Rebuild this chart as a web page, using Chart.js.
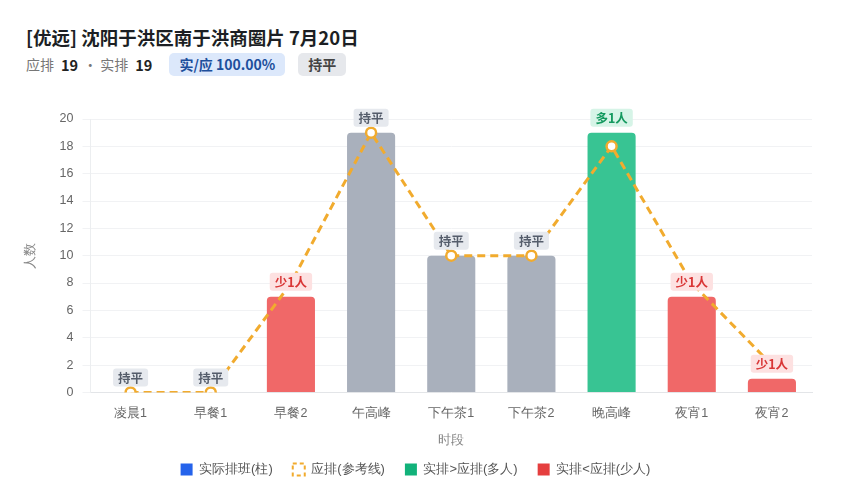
<!DOCTYPE html>
<html>
<head>
<meta charset="utf-8">
<script src="https://cdn.jsdelivr.net/npm/chart.js@4"></script>
<style>
    body { margin: 0; background: #fff; font-family: "Noto Sans CJK SC", "Noto Sans", sans-serif; }
    .header { position: absolute; left: 26px; top: 24px; }
    .title { font-size: 18.5px; font-weight: 700; color: #1c1f24; line-height: 26px; }
    .sub { margin-top: 2px; font-size: 14px; color: #777; display: flex; align-items: center; height: 24px; }
    .sub b { color: #222; margin: 0 5px 0 7px; font-size: 14.5px; }
    .badge { display: inline-block; padding: 0 10px; height: 23px; line-height: 23px; border-radius: 5px; font-weight: 700; font-size: 14px; }
    .blue { background: #dce8fb; color: #1d4f9c; margin-left: 12px; }
    .gray { background: #e6e8ec; color: #444; margin-left: 13px; }
    #wrap { position: absolute; left: 0; top: 101px; width: 844px; height: 385px; }
</style>
</head>
<body>
<div class="header">
    <div class="title">[优远] 沈阳于洪区南于洪商圈片 7月20日</div>
    <div class="sub">应排<b>19</b>· 实排<b>19</b>
        <span class="badge blue">实/应 100.00%</span>
        <span class="badge gray">持平</span>
    </div>
</div>
<div id="wrap"><canvas id="chart"></canvas></div>
<script>
// Chart data
const periods = ['凌晨1', '早餐1', '早餐2', '午高峰', '下午茶1', '下午茶2', '晚高峰', '夜宵1', '夜宵2'];
const actualStaff = [0, 0, 7, 19, 10, 10, 19, 7, 1];
const plannedStaff = [0, 0, 8, 19, 10, 10, 18, 8, 2];
const yTicks = [0, 2, 4, 6, 8, 10, 12, 14, 16, 18, 20];

const COLORS = {
    even: '#a9b0bc',
    more: '#38c493',
    less: '#f06868',
    line: '#f1ab2e'
};

function diffOf(i) {
    return actualStaff[i] - plannedStaff[i];
}

function barColor(i) {
    const d = diffOf(i);
    if (d > 0) return COLORS.more;
    if (d < 0) return COLORS.less;
    return COLORS.even;
}

// Draws the 持平 / 多N人 / 少N人 tags above each bar
const diffTags = {
    id: 'diffTags',
    afterDatasetsDraw(chart) {
        const ctx = chart.ctx;
        const meta = chart.getDatasetMeta(1); // bar dataset
        ctx.save();
        ctx.font = 'bold 12.5px "Noto Sans CJK SC", sans-serif';
        ctx.textAlign = 'center';
        ctx.textBaseline = 'middle';
        meta.data.forEach((bar, i) => {
            const d = diffOf(i);
            let text = '持平', bg = '#e6e9ee', fg = '#555d6b';
            if (d > 0) { text = '多' + d + '人'; bg = '#d6f4e7'; fg = '#14995f'; }
            if (d < 0) { text = '少' + (-d) + '人'; bg = '#fde1e1'; fg = '#d93636'; }
            const cy = bar.y - 15;
            const w = ctx.measureText(text).width + 10;
            const h = 18;
            ctx.fillStyle = bg;
            ctx.beginPath();
            ctx.roundRect(bar.x - w / 2, cy - h / 2, w, h, 3);
            ctx.fill();
            ctx.fillStyle = fg;
            ctx.fillText(text, bar.x, cy + 1);
        });
        ctx.restore();
    }
};

const ctx = document.getElementById('chart').getContext('2d');
new Chart(ctx, {
    data: {
        labels: periods,
        datasets: [{
            type: 'line',
            label: '应排(参考线)',
            data: plannedStaff,
            borderColor: COLORS.line,
            borderWidth: 3,
            borderDash: [8, 5],
            pointRadius: 5,
            pointBackgroundColor: '#fff',
            pointBorderColor: COLORS.line,
            pointBorderWidth: 2.5,
            tension: 0,
            order: 0
        }, {
            type: 'bar',
            label: '实际排班(柱)',
            data: actualStaff,
            backgroundColor: periods.map((p, i) => barColor(i)),
            borderRadius: { topLeft: 4, topRight: 4 },
            borderSkipped: 'bottom',
            categoryPercentage: 0.6,
            barPercentage: 1,
            order: 1
        }]
    },
    options: {
        responsive: true,
        maintainAspectRatio: false,
        animation: false,
        layout: { padding: { left: 19, right: 32, top: 18, bottom: 0 } },
        scales: {
            x: {
                grid: { display: false },
                border: { color: '#e3e5e8' },
                ticks: { color: '#666', font: { size: 12.5 }, padding: 6 },
                title: { display: true, text: '时段', color: '#888', font: { size: 13 }, padding: { top: 5, bottom: -5 } }
            },
            y: {
                min: 0,
                max: 20,
                afterBuildTicks(axis) {
                    axis.ticks = yTicks.map(v => ({ value: v }));
                },
                grid: { color: '#f1f2f4' },
                border: { color: '#eceef0' },
                ticks: { color: '#666', font: { size: 12.5 }, padding: 9 },
                title: { display: true, text: '人数', color: '#888', font: { size: 13 }, padding: { bottom: 12 } }
            }
        },
        plugins: {
            tooltip: { enabled: false },
            legend: {
                position: 'bottom',
                labels: {
                    color: '#555',
                    font: { size: 13 },
                    boxWidth: 12,
                    boxHeight: 12,
                    padding: 20,
                    useBorderRadius: true,
                    borderRadius: 3,
                    generateLabels() {
                        return [
                            { text: '实际排班(柱)', fillStyle: '#2563eb', strokeStyle: '#2563eb', lineWidth: 0, fontColor: '#555' },
                            { text: '应排(参考线)', fillStyle: '#fff', strokeStyle: COLORS.line, lineWidth: 2, lineDash: [4, 3], fontColor: '#555' },
                            { text: '实排>应排(多人)', fillStyle: '#12b27a', strokeStyle: '#12b27a', lineWidth: 0, fontColor: '#555' },
                            { text: '实排<应排(少人)', fillStyle: '#e53e3e', strokeStyle: '#e53e3e', lineWidth: 0, fontColor: '#555' }
                        ];
                    }
                }
            }
        }
    },
    plugins: [diffTags]
});
</script>
</body>
</html>
